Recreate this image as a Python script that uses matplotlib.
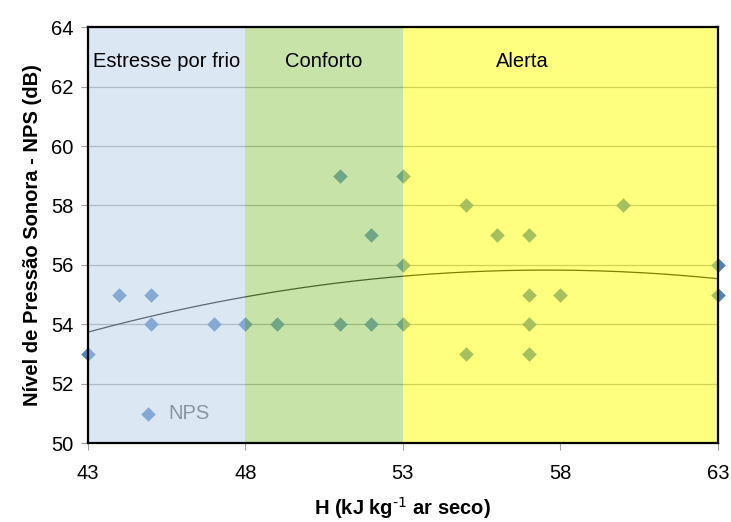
import numpy as np
import matplotlib
matplotlib.use("Agg")
import matplotlib.pyplot as plt

plt.rcParams["font.family"] = ["Liberation Sans", "DejaVu Sans"]
plt.rcParams["mathtext.default"] = "regular"

# entalpia (kJ/kg ar seco) x nível de pressão sonora (dB)
H = [43, 44, 45, 45, 47, 48, 49, 51, 51, 52, 52, 53, 53, 53,
     55, 55, 56, 57, 57, 57, 57, 58, 60, 63, 63]
NPS = [53, 55, 55, 54, 54, 54, 54, 59, 54, 57, 54, 59, 56, 54,
       58, 53, 57, 57, 55, 54, 53, 55, 58, 56, 55]

zones = ["Estresse por frio", "Conforto", "Alerta"]
zone_limits = [(43, 48), (48, 53), (53, 63)]
zone_colors = ["#bbd1eb", "#91c951", "#ffff00"]
zone_label_x = [45.5, 50.5, 56.8]

fig = plt.figure(figsize=(7.31, 5.22), dpi=100)
ax = fig.add_axes([0.120, 0.151, 0.862, 0.797])

ax.set_xlim(43, 63)
ax.set_ylim(50, 64)
ax.set_xticks(np.arange(43, 64, 5))
ax.set_yticks(np.arange(50, 65, 2))
ax.yaxis.grid(True, color="#a6a6a6", lw=0.9, zorder=0)
ax.set_axisbelow(True)

ax.scatter(H, NPS, marker="D", s=55, color="#4f81bd", lw=0, zorder=1,
           label="NPS", clip_on=False)

# linha de tendência polinomial (2a ordem)
coef = np.polyfit(H, NPS, 2)
xs = np.linspace(43, 63, 200)
ax.plot(xs, np.polyval(coef, xs), color="black", lw=0.9, zorder=1)

for (x0, x1), c in zip(zone_limits, zone_colors):
    ax.axvspan(x0, x1, color=c, alpha=0.5, lw=0, zorder=2)

for name, x in zip(zones, zone_label_x):
    ax.text(x, 62.85, name, ha="center", va="center", fontsize=14.5, zorder=4)

leg = ax.legend(loc="lower left", bbox_to_anchor=(0.035, 0.005), frameon=False,
                fontsize=14.5, handletextpad=0.0, markerscale=1.0,
                labelcolor="#595959")
leg.set_zorder(1)

for s in ax.spines.values():
    s.set_linewidth(1.6)
    s.set_zorder(5)

ax.tick_params(axis="both", direction="out", length=5, color="#a0a0a0",
               labelsize=14.5, pad=5)
ax.tick_params(axis="x", pad=10)

ax.set_xlabel(r"H (kJ kg$^{\text{-1}}$ ar seco)", fontsize=14.5,
              fontweight="bold", labelpad=9)
ax.set_ylabel("Nível de Pressão Sonora - NPS (dB)", fontsize=14.5,
              fontweight="bold", labelpad=7)

fig.savefig("out.png", dpi=100)
